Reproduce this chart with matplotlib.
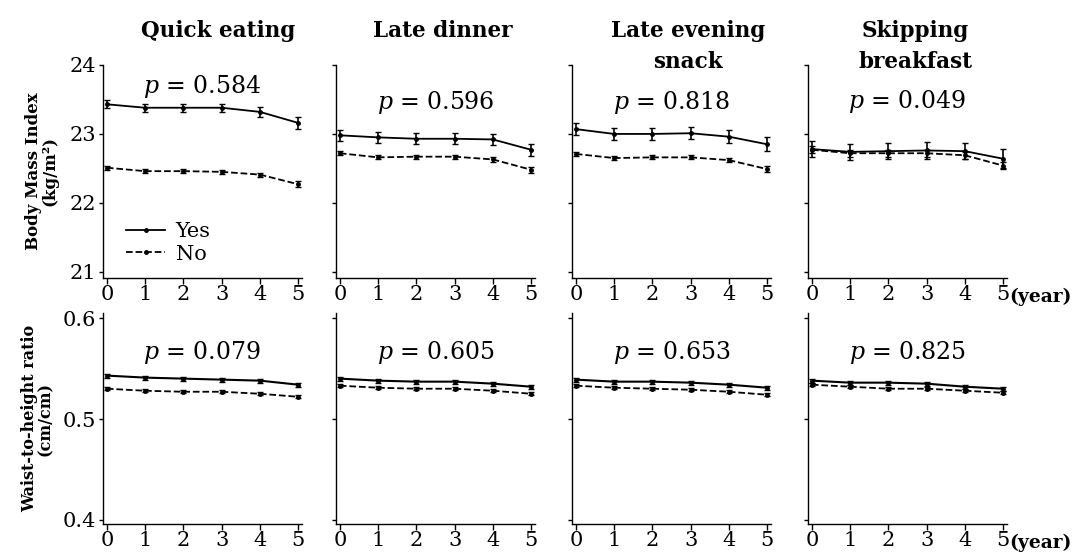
import numpy as np
import matplotlib
matplotlib.use("Agg")
import matplotlib.pyplot as plt

plt.rcParams['font.family'] = ['DejaVu Serif']
plt.rcParams['mathtext.fontset'] = 'dejavuserif'

# data
years = [0, 1, 2, 3, 4, 5]
titles = ["Quick eating", "Late dinner", "Late evening\nsnack", "Skipping\nbreakfast"]

bmi_yes = [
    [23.43, 23.38, 23.38, 23.38, 23.32, 23.16],
    [22.98, 22.95, 22.93, 22.93, 22.92, 22.77],
    [23.07, 23.00, 23.00, 23.01, 22.96, 22.85],
    [22.78, 22.74, 22.75, 22.76, 22.75, 22.64],
]
bmi_yes_err = [
    [0.06, 0.06, 0.06, 0.06, 0.07, 0.085],
    [0.08, 0.08, 0.08, 0.08, 0.08, 0.09],
    [0.09, 0.09, 0.09, 0.09, 0.09, 0.10],
    [0.12, 0.12, 0.12, 0.12, 0.12, 0.14],
]
bmi_no = [
    [22.51, 22.46, 22.46, 22.45, 22.41, 22.27],
    [22.72, 22.66, 22.67, 22.67, 22.63, 22.48],
    [22.71, 22.65, 22.66, 22.66, 22.62, 22.49],
    [22.77, 22.72, 22.72, 22.72, 22.69, 22.54],
]
bmi_no_err = [
    [0.03, 0.03, 0.03, 0.03, 0.03, 0.04],
    [0.03, 0.03, 0.03, 0.03, 0.03, 0.04],
    [0.03, 0.03, 0.03, 0.03, 0.03, 0.04],
    [0.05, 0.05, 0.05, 0.05, 0.05, 0.05],
]
whtr_yes = [
    [0.543, 0.541, 0.540, 0.539, 0.538, 0.534],
    [0.540, 0.538, 0.537, 0.537, 0.535, 0.532],
    [0.539, 0.537, 0.537, 0.536, 0.534, 0.531],
    [0.538, 0.536, 0.536, 0.535, 0.532, 0.530],
]
whtr_no = [
    [0.530, 0.528, 0.527, 0.527, 0.525, 0.522],
    [0.533, 0.531, 0.530, 0.530, 0.528, 0.525],
    [0.533, 0.531, 0.530, 0.529, 0.527, 0.524],
    [0.534, 0.532, 0.530, 0.530, 0.528, 0.526],
]
whtr_err = 0.002

p_bmi = ["0.584", "0.596", "0.818", "0.049"]
p_whtr = ["0.079", "0.605", "0.653", "0.825"]

bmi_ticks = [21, 22, 23, 24]
whtr_ticks = [0.4, 0.5, 0.6]

# layout (pixels of a 1079x554 figure)
W, H = 1079, 554
col_left = [103, 336, 572, 808]
col_w = 199
title_dx = [0.58, 0.535, 0.585, 0.54]
p_top_y = [0.9, 0.825, 0.825, 0.83]

fig = plt.figure(figsize=(W / 100, H / 100), dpi=100)

def style(ax, first):
    for s in ['top', 'right']:
        ax.spines[s].set_visible(False)
    for s in ['left', 'bottom']:
        ax.spines[s].set_linewidth(1.0)
    ax.set_xlim(-0.1, 5.1)
    ax.set_xticks(years)
    ax.tick_params(axis='x', labelsize=15, length=4, width=1, pad=1)
    ax.tick_params(axis='y', labelsize=15, length=3, width=1, pad=2)
    if not first:
        ax.set_yticklabels([])

for i in range(4):
    x0 = col_left[i] / W
    # top row: BMI
    ax = fig.add_axes([x0, 1 - 278 / H, col_w / W, (278 - 65) / H])
    ax.errorbar(years, bmi_yes[i], yerr=bmi_yes_err[i], color='black', lw=1.3,
                marker='o', ms=2.5, capsize=2, elinewidth=1.2, label='Yes')
    ax.errorbar(years, bmi_no[i], yerr=bmi_no_err[i], color='black', lw=1.3,
                ls='--', marker='o', ms=2.5, capsize=2, elinewidth=1.2, label='No')
    ax.set_ylim(20.91, 24.0)
    ax.set_yticks(bmi_ticks)
    style(ax, i == 0)
    ax.text(0.5, p_top_y[i], "$p$ = " + p_bmi[i], transform=ax.transAxes,
            ha='center', va='center', fontsize=17)
    fig.text((col_left[i] + title_dx[i] * col_w) / W, 1 - 20 / H, titles[i],
             ha='center', va='top', fontsize=15.5, fontweight='bold', linespacing=1.5)
    if i == 0:
        ax.set_ylabel("Body Mass Index\n(kg/m²)", fontsize=12, fontweight='bold',
                      labelpad=8, linespacing=0.95)
        handles, labels = ax.get_legend_handles_labels()
        hs = [h[0] for h in handles]
        ax.legend(hs, labels, loc='lower left', bbox_to_anchor=(0.02, -0.02),
                  frameon=False, fontsize=15, handlelength=1.9, handletextpad=0.5,
                  labelspacing=0.15)
    if i == 3:
        ax.text(1.01, -0.045, "(year)", transform=ax.transAxes, ha='left', va='top',
                fontsize=13.5, fontweight='bold')

    # bottom row: waist-to-height ratio
    ax = fig.add_axes([x0, 1 - 524 / H, col_w / W, (524 - 313) / H])
    ax.errorbar(years, whtr_yes[i], yerr=whtr_err, color='black', lw=1.5,
                marker='o', ms=2.5, capsize=2, elinewidth=1.2)
    ax.errorbar(years, whtr_no[i], yerr=whtr_err * 0.7, color='black', lw=1.3,
                ls='--', marker='o', ms=2.5, capsize=2, elinewidth=1.2)
    ax.set_ylim(0.396, 0.605)
    ax.set_yticks(whtr_ticks)
    ax.set_yticklabels(["0.4", "0.5", "0.6"])
    style(ax, i == 0)
    ax.text(0.5, 0.815, "$p$ = " + p_whtr[i], transform=ax.transAxes,
            ha='center', va='center', fontsize=17)
    if i == 0:
        ax.set_ylabel("Waist-to-height ratio\n(cm/cm)", fontsize=11.5,
                      fontweight='bold', labelpad=6, linespacing=0.95)
    if i == 3:
        ax.text(1.01, -0.045, "(year)", transform=ax.transAxes, ha='left', va='top',
                fontsize=13.5, fontweight='bold')

fig.savefig("out.png", dpi=100)
